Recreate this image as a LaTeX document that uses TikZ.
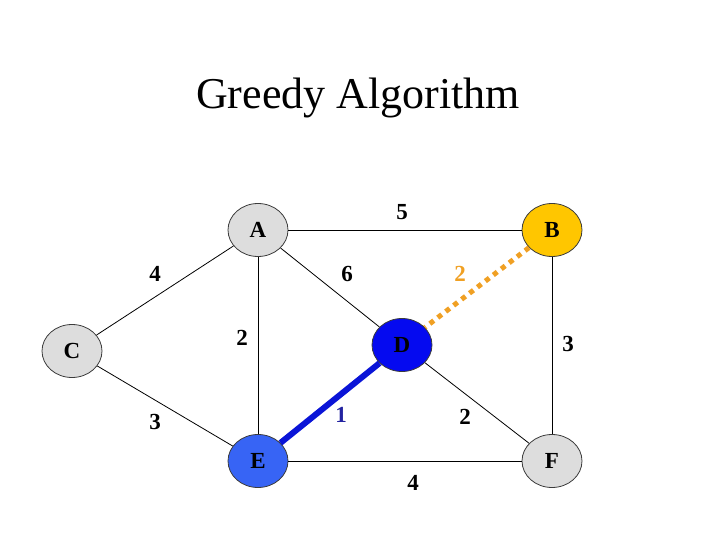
\documentclass[tikz,border=0pt]{standalone}
\usepackage{fontspec}
\setmainfont{Liberation Serif}
\usetikzlibrary{shapes.geometric}
\definecolor{nodegray}{RGB}{221,221,221}
\definecolor{bordergray}{RGB}{60,60,60}
\definecolor{gold}{RGB}{255,198,0}
\definecolor{dblue}{RGB}{5,10,240}
\definecolor{eblue}{RGB}{55,100,245}
\definecolor{pathblue}{RGB}{10,20,215}
\definecolor{labelblue}{RGB}{35,35,160}
\definecolor{dotorange}{RGB}{240,160,35}
\tikzset{
  vertex/.style={ellipse,draw=bordergray,line width=0.8pt,fill=nodegray,minimum width=60pt,
    minimum height=53pt,inner sep=0pt,font=\fontsize{23}{23}\selectfont\bfseries},
  weight/.style={inner sep=0pt,font=\fontsize{23}{23}\selectfont\bfseries},
  chosen/.style={pathblue,line width=6pt},
  candidate/.style={dotorange,line width=5pt,dash pattern=on 5pt off 5pt}
}
\begin{document}
\begin{tikzpicture}[x=1pt,y=-1pt]
  \useasboundingbox (0,0) rectangle (720,540);
  \node[anchor=base,font=\fontsize{44}{44}\selectfont] (title) at (358,109) {Greedy Algorithm};
  \draw
    (258,230) node[vertex] (A){A}
    (552,230) node[vertex,fill=gold] (B){B}
    (72,351) node[vertex] (C){C}
    (402,345) node[vertex,fill=dblue] (D){D}
    (258,461) node[vertex,fill=eblue] (E){E}
    (552,461) node[vertex] (F){F};
  \begin{scope}[-,line width=0.8pt]
    \draw (A) to (B);
    \draw (A) to (C);
    \draw (A) to (D);
    \draw (A) to (E);
    \draw (B) to (F);
    \draw (C) to (E);
    \draw (D) to (F);
    \draw (E) to (F);
    \draw[candidate] (B) to (D);
    \draw[chosen] (D) to (E);
  \end{scope}
  \node[weight] (wab) at (402,212) {5};
  \node[weight] (wac) at (155,274) {4};
  \node[weight] (wad) at (347,274) {6};
  \node[weight,text=dotorange] (wbd) at (460,274) {2};
  \node[weight] (wae) at (242,338) {2};
  \node[weight] (wbf) at (568,344) {3};
  \node[weight] (wce) at (155,422) {3};
  \node[weight,text=labelblue] (wde) at (341,415) {1};
  \node[weight] (wdf) at (465,417) {2};
  \node[weight] (wef) at (413,483) {4};
\end{tikzpicture}
\end{document}
